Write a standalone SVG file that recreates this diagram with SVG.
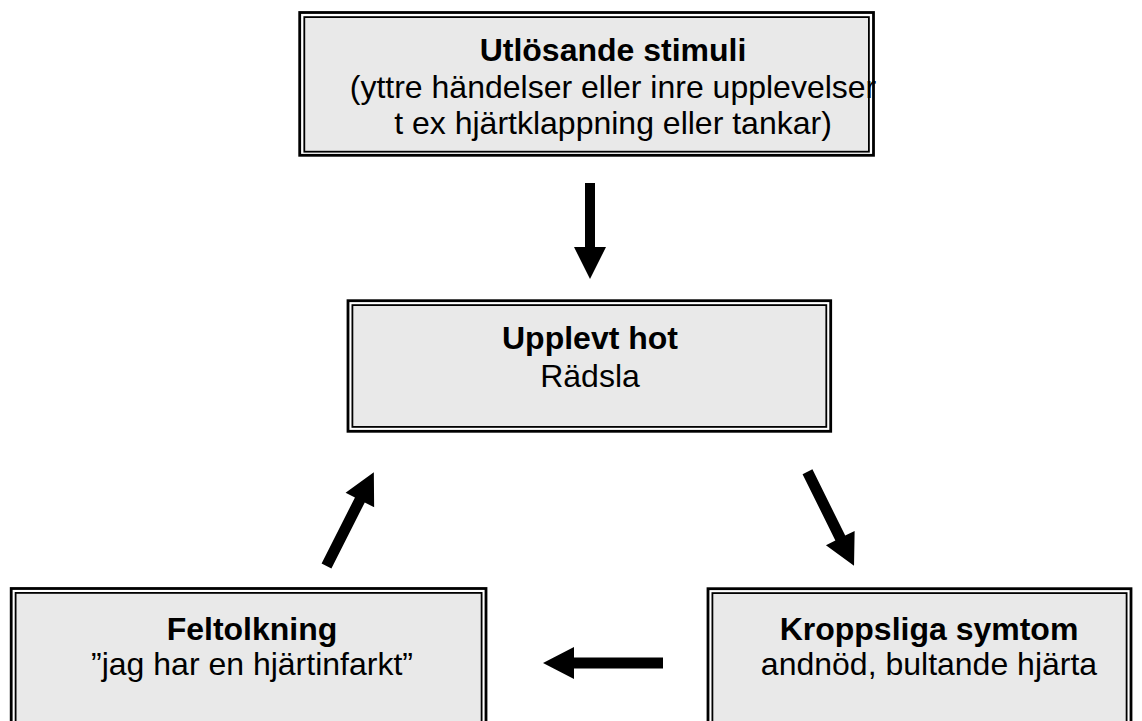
<svg xmlns="http://www.w3.org/2000/svg" width="1142" height="721" viewBox="0 0 1142 721">
  <style>
    .outer { fill: #ffffff; stroke: #000000; stroke-width: 2.8; }
    .inner { fill: #e9e9e9; stroke: #000000; stroke-width: 1.8; }
    .t { font-family: "Liberation Sans", Arial, sans-serif; font-size: 32px; fill: #000000; text-anchor: middle; }
    .b { font-weight: bold; }
    .arrow { fill: #000000; }
  </style>
  <defs>
    <!-- block arrows pointing along +x, tail at the origin -->
    <polygon id="a96" points="0,-5 64,-5 64,-16 96,0 64,16 64,5 0,5"/>
    <polygon id="a105" points="0,-5.5 74,-5.5 74,-16 105,0 74,16 74,5.5 0,5.5"/>
    <polygon id="a120" points="0,-5.5 89,-5.5 89,-16 120,0 89,16 89,5.5 0,5.5"/>
  </defs>

  <rect width="1142" height="721" fill="#ffffff"/>

  <g id="node-stimuli">
    <rect class="outer" x="299.7" y="12.5" width="573.8" height="142.8"/>
    <rect class="inner" x="304.3" y="17.1" width="564.6" height="134.6"/>
    <text class="t b" x="613" y="61">Utlösande stimuli</text>
    <text class="t" x="613" y="97.5">(yttre händelser eller inre upplevelser</text>
    <text class="t" x="613" y="133.5">t ex hjärtklappning eller tankar)</text>
  </g>

  <g id="node-hot">
    <rect class="outer" x="348" y="300.7" width="482.7" height="130.6"/>
    <rect class="inner" x="352.4" y="305.1" width="473.9" height="121.8"/>
    <text class="t b" x="590" y="348.5">Upplevt hot</text>
    <text class="t" x="590" y="386.5">Rädsla</text>
  </g>

  <g id="node-feltolkning">
    <rect class="outer" x="11.2" y="588.5" width="474.8" height="150"/>
    <rect class="inner" x="15.6" y="592.9" width="466" height="150"/>
    <text class="t b" x="252" y="640">Feltolkning</text>
    <text class="t" x="252" y="675">”jag har en hjärtinfarkt”</text>
  </g>

  <g id="node-symtom">
    <rect class="outer" x="708" y="588.7" width="423" height="150"/>
    <rect class="inner" x="712.4" y="593.1" width="414.2" height="150"/>
    <text class="t b" x="929" y="640">Kroppsliga symtom</text>
    <text class="t" x="929" y="675">andnöd, bultande hjärta</text>
  </g>

  <g id="connectors" class="arrow">
    <use href="#a96" transform="translate(590,183) rotate(90)"/>
    <use href="#a105" transform="translate(807.5,471.7) rotate(63.7)"/>
    <use href="#a120" transform="translate(663,663) rotate(180)"/>
    <use href="#a105" transform="translate(326.5,566) rotate(-63.2)"/>
  </g>
</svg>
